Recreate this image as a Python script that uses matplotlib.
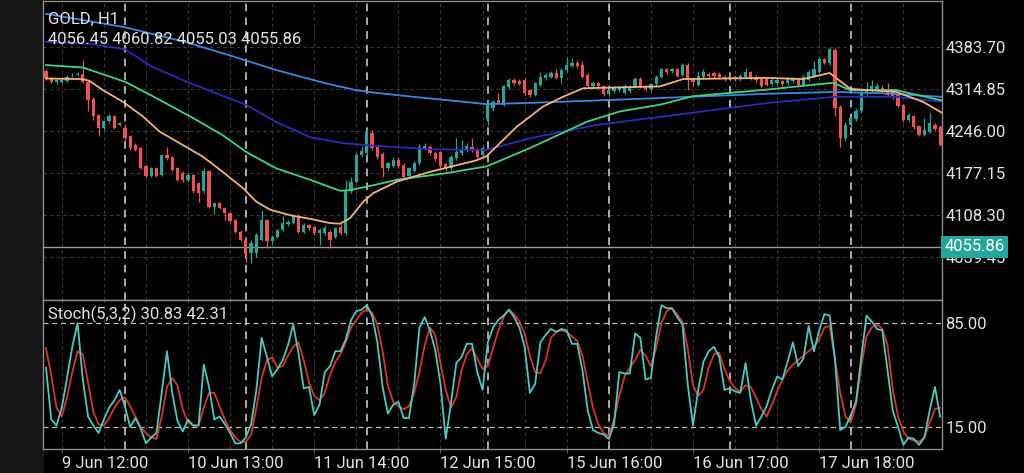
import matplotlib
matplotlib.use('Agg')
import matplotlib.pyplot as plt
import matplotlib.transforms as mtransforms
from matplotlib.patches import Rectangle
import numpy as np

plt.rcParams['font.family'] = ['Roboto', 'DejaVu Sans']

# H1 candles
opens = [4345, 4333, 4326, 4326, 4328, 4337, 4338, 4340, 4327, 4299,
         4272, 4251, 4262, 4270, 4256, 4251, 4237, 4223, 4218, 4188,
         4172, 4185, 4174, 4206, 4203, 4185, 4177, 4166, 4174, 4160,
         4147, 4180, 4122, 4128, 4119, 4111, 4100, 4081, 4068, 4046,
         4046, 4068, 4100, 4065, 4073, 4084, 4093, 4095, 4106, 4081,
         4092, 4089, 4079, 4079, 4081, 4073, 4089, 4079, 4148, 4162,
         4206, 4210, 4243, 4220, 4209, 4185, 4189, 4198, 4190, 4172,
         4181, 4193, 4218, 4220, 4210, 4212, 4192, 4185, 4201, 4210,
         4215, 4220, 4215, 4207, 4265, 4283, 4297, 4289, 4318, 4330,
         4328, 4330, 4313, 4305, 4322, 4332, 4335, 4341, 4333, 4346,
         4353, 4357, 4354, 4338, 4320, 4325, 4319, 4306, 4311, 4313,
         4309, 4311, 4318, 4331, 4320, 4314, 4323, 4334, 4347, 4344,
         4347, 4338, 4354, 4331, 4322, 4335, 4340, 4341, 4339, 4335,
         4331, 4335, 4331, 4335, 4342, 4335, 4331, 4331, 4323, 4325,
         4328, 4324, 4328, 4331, 4322, 4330, 4336, 4343, 4364, 4357,
         4379, 4286, 4234, 4255, 4265, 4278, 4308, 4313, 4314, 4317,
         4313, 4311, 4305, 4289, 4264, 4270, 4254, 4240, 4245, 4256,
         4252]
highs = [4348, 4334, 4331, 4333, 4337, 4341, 4342, 4362, 4328, 4301,
         4274, 4264, 4273, 4272, 4261, 4257, 4239, 4226, 4220, 4190,
         4187, 4187, 4209, 4220, 4205, 4187, 4180, 4177, 4176, 4162,
         4185, 4182, 4130, 4130, 4121, 4113, 4102, 4083, 4072, 4068,
         4078, 4117, 4102, 4076, 4086, 4106, 4100, 4109, 4110, 4095,
         4094, 4091, 4087, 4092, 4084, 4089, 4093, 4166, 4171, 4210,
         4222, 4250, 4247, 4222, 4211, 4195, 4203, 4203, 4193, 4187,
         4196, 4225, 4226, 4223, 4213, 4214, 4194, 4206, 4234, 4231,
         4226, 4234, 4218, 4222, 4296, 4296, 4308, 4322, 4333, 4332,
         4331, 4332, 4315, 4326, 4343, 4341, 4344, 4347, 4349, 4368,
         4365, 4362, 4360, 4341, 4328, 4327, 4321, 4316, 4319, 4320,
         4323, 4321, 4334, 4334, 4322, 4325, 4338, 4350, 4349, 4350,
         4349, 4357, 4357, 4333, 4345, 4347, 4343, 4345, 4342, 4337,
         4338, 4338, 4340, 4349, 4345, 4337, 4333, 4334, 4333, 4333,
         4330, 4335, 4334, 4333, 4337, 4346, 4361, 4367, 4366, 4384,
         4382, 4289, 4260, 4270, 4283, 4311, 4327, 4329, 4324, 4322,
         4324, 4313, 4308, 4291, 4275, 4272, 4256, 4267, 4275, 4259,
         4255]
lows = [4330, 4324, 4323, 4324, 4326, 4335, 4336, 4325, 4278, 4264,
        4237, 4248, 4259, 4249, 4254, 4232, 4215, 4213, 4183, 4170,
        4170, 4170, 4172, 4199, 4180, 4164, 4163, 4163, 4145, 4130,
        4145, 4120, 4110, 4118, 4100, 4095, 4079, 4065, 4031, 4030,
        4040, 4066, 4054, 4060, 4070, 4082, 4090, 4093, 4079, 4079,
        4084, 4076, 4059, 4075, 4054, 4070, 4076, 4076, 4145, 4160,
        4203, 4205, 4215, 4200, 4171, 4182, 4187, 4185, 4168, 4169,
        4178, 4190, 4215, 4207, 4196, 4185, 4181, 4182, 4198, 4207,
        4212, 4212, 4200, 4204, 4256, 4279, 4290, 4287, 4315, 4322,
        4321, 4305, 4302, 4303, 4320, 4330, 4333, 4331, 4324, 4343,
        4351, 4350, 4333, 4316, 4317, 4316, 4304, 4303, 4308, 4310,
        4306, 4308, 4316, 4316, 4311, 4311, 4320, 4332, 4340, 4341,
        4334, 4336, 4313, 4320, 4319, 4332, 4333, 4333, 4331, 4328,
        4328, 4328, 4328, 4332, 4330, 4327, 4317, 4319, 4320, 4322,
        4320, 4321, 4325, 4319, 4320, 4328, 4334, 4341, 4355, 4354,
        4270, 4219, 4230, 4252, 4262, 4275, 4305, 4310, 4311, 4308,
        4302, 4299, 4285, 4261, 4261, 4250, 4237, 4237, 4242, 4246,
        4221]
closes = [4332, 4326, 4329, 4330, 4335, 4338, 4339, 4327, 4297, 4270,
          4251, 4262, 4270, 4251, 4259, 4234, 4218, 4215, 4185, 4172,
          4185, 4172, 4207, 4201, 4182, 4166, 4166, 4174, 4147, 4144,
          4180, 4122, 4128, 4120, 4111, 4098, 4081, 4068, 4045, 4062,
          4076, 4100, 4065, 4073, 4084, 4095, 4097, 4106, 4081, 4092,
          4087, 4079, 4084, 4087, 4068, 4087, 4079, 4150, 4163, 4207,
          4214, 4245, 4218, 4204, 4185, 4193, 4199, 4188, 4171, 4185,
          4193, 4220, 4221, 4210, 4200, 4188, 4185, 4204, 4212, 4216,
          4221, 4215, 4204, 4218, 4291, 4293, 4292, 4319, 4330, 4324,
          4323, 4308, 4305, 4324, 4335, 4338, 4341, 4333, 4346, 4354,
          4357, 4353, 4335, 4319, 4325, 4319, 4307, 4313, 4316, 4317,
          4319, 4318, 4331, 4319, 4314, 4323, 4335, 4347, 4343, 4347,
          4336, 4354, 4331, 4327, 4336, 4343, 4336, 4336, 4334, 4331,
          4335, 4331, 4336, 4343, 4333, 4330, 4320, 4322, 4330, 4330,
          4323, 4332, 4331, 4322, 4334, 4343, 4347, 4364, 4357, 4380,
          4283, 4234, 4256, 4267, 4278, 4308, 4313, 4319, 4319, 4311,
          4305, 4302, 4287, 4264, 4272, 4253, 4240, 4248, 4259, 4249,
          4223]

# moving averages, sampled at bar positions
ma_orange_x = [0, 7, 8.3, 10.8, 14.6, 18.4, 21.6, 26, 29.8, 33.6, 37.5, 40, 42.6, 46.4, 50.2,
               54, 55.9, 57.8, 60.3, 62.2, 66.7, 73, 81.9, 83.8, 89.5, 94.5, 98.3, 102.1,
               116.7, 121.1, 137.3, 143.9, 149, 152.9, 161.6, 166.7, 170.3]
ma_orange = [4332, 4331, 4328, 4313, 4294, 4270, 4245, 4223, 4204, 4179, 4152, 4130, 4117, 4108,
             4102, 4095, 4094, 4103, 4130, 4144, 4163, 4179, 4198, 4205, 4253, 4286, 4302,
             4316, 4319, 4331, 4333, 4331, 4341, 4315, 4310, 4294, 4276]
ma_green_x = [0, 7, 10.8, 15.2, 21.6, 28, 33.6, 38, 43.7, 50.2, 55.9, 57.8, 62.2, 66.7, 76.2,
              83.8, 92, 102.8, 109.1, 116.7, 123, 137.3, 149.6, 152.9, 161.6, 170.3]
ma_green = [4354, 4350, 4339, 4326, 4297, 4267, 4239, 4212, 4185, 4166, 4148, 4149, 4157, 4166,
            4177, 4188, 4218, 4261, 4278, 4289, 4303, 4314, 4325, 4313, 4313, 4296]
ma_navy_x = [0, 8, 15, 20, 26.7, 32.3, 38, 43.7, 50.2, 56.5, 62.2, 73, 83.8, 92, 104.7, 116.7,
             137.3, 150, 161.6, 170.3]
ma_navy = [4392, 4389, 4380, 4352, 4327, 4308, 4289, 4261, 4236, 4226, 4222, 4216, 4215, 4234,
           4256, 4269, 4292, 4302, 4302, 4294]
ma_blue_x = [0, 15, 26.4, 34.9, 43.7, 53.2, 58.9, 62.2, 69.8, 83.8, 92, 104.7, 116.7, 137.3,
             150, 158.6, 170.3]
ma_blue = [4438, 4416, 4392, 4370, 4346, 4324, 4313, 4309, 4302, 4290, 4292, 4296, 4300, 4307,
           4310, 4308, 4302]

# Stoch(5,3,2)
stoch_k = [55, 20, 16, 28, 48, 69, 85, 47, 22, 16, 11, 20, 28, 33, 40, 29, 15, 21, 14, 4,
           8, 11, 38, 66, 38, 19, 12, 20, 16, 16, 57, 42, 20, 22, 17, 11, 4, 4, 8, 17,
           40, 75, 62, 49, 54, 60, 70, 84, 65, 41, 42, 23, 30, 52, 56, 66, 66, 74, 87, 93,
           94, 97, 90, 72, 42, 24, 30, 32, 21, 21, 44, 82, 89, 80, 67, 44, 7, 31, 58, 62,
           71, 71, 52, 40, 72, 82, 87, 90, 94, 89, 82, 69, 38, 44, 72, 77, 81, 79, 81, 80,
           71, 71, 53, 26, 13, 11, 10, 7, 17, 52, 51, 51, 78, 75, 47, 48, 76, 97, 95, 95,
           89, 84, 44, 16, 40, 59, 66, 69, 62, 40, 41, 39, 38, 58, 33, 16, 22, 29, 40, 49,
           47, 59, 72, 56, 61, 83, 66, 80, 91, 90, 61, 13, 15, 23, 32, 62, 90, 86, 81, 80,
           53, 26, 15, 3, 8, 7, 3, 8, 26, 42, 22]
stoch_d = [68, 50, 28, 22, 35, 52, 66, 64, 45, 25, 17, 16, 21, 28, 33, 35, 29, 22, 15, 11,
           8, 7, 22, 42, 48, 43, 27, 18, 16, 16, 28, 38, 38, 29, 20, 13, 8, 5, 5, 10,
           28, 48, 60, 62, 55, 56, 63, 69, 72, 60, 45, 36, 33, 38, 50, 59, 64, 72, 82, 87,
           92, 94, 92, 84, 66, 43, 32, 29, 27, 29, 38, 52, 70, 82, 77, 58, 40, 28, 35, 53,
           64, 68, 61, 54, 56, 68, 80, 89, 94, 91, 86, 78, 63, 52, 51, 60, 75, 79, 80, 79,
           76, 73, 63, 45, 28, 17, 11, 9, 20, 36, 49, 55, 60, 67, 63, 56, 68, 85, 93, 95,
           91, 86, 68, 43, 36, 40, 55, 64, 65, 54, 46, 41, 39, 43, 42, 35, 27, 22, 30, 39,
           47, 53, 57, 60, 63, 66, 69, 74, 82, 83, 60, 38, 22, 18, 30, 56, 76, 82, 84, 81,
           70, 40, 22, 12, 7, 6, 5, 8, 18, 27, 28]

price_ticks = [4383.70, 4314.85, 4246.00, 4177.15, 4108.30, 4039.45]
last_price = 4055.86
label_bars = [3, 27, 51, 75, 99, 123, 147]
time_labels = ['9 Jun 12:00', '10 Jun 13:00', '11 Jun 14:00', '12 Jun 15:00',
               '15 Jun 16:00', '16 Jun 17:00', '17 Jun 18:00']
day_start_bars = [15, 38, 61, 84, 107, 130, 153]

UP = '#26a69a'
DOWN = '#ef5350'
TXT = '#e2e2e2'
GRID = '#3a3a3a'
FRAME = '#8c8c8c'

o = np.array(opens, float)
h = np.array(highs, float)
l = np.array(lows, float)
c = np.array(closes, float)
x = np.arange(len(o))

fig = plt.figure(figsize=(10.24, 4.73), dpi=100, facecolor='black')
fig.patches.append(Rectangle((0, 0), 43 / 1024, 1, transform=fig.transFigure,
                             color='#151515', zorder=-5))

ax = fig.add_axes([43 / 1024, 173 / 473, 899 / 1024, 299 / 473])
ax2 = fig.add_axes([43 / 1024, 23.7 / 473, 899 / 1024, 149.3 / 473])

xlim = (-0.57, 170.35)
grid_bars = list(range(3, len(o), 8))

for a in (ax, ax2):
    a.set_facecolor('black')
    a.set_xlim(*xlim)
    for s in a.spines.values():
        s.set_color(FRAME)
        s.set_linewidth(1.0)
    for g in grid_bars:
        a.axvline(g, color=GRID, lw=0.8, ls=(0, (3, 3)), zorder=0)
    for d in day_start_bars:
        a.axvline(d, color='#d8d8d8', lw=1.1, ls=(0, (5, 4)), zorder=1)
    a.yaxis.tick_right()

# price panel
ax.set_ylim(3969, 4459)
for p in price_ticks:
    ax.axhline(p, color=GRID, lw=0.8, ls=(0, (3, 3)), zorder=0)
ax.axhline(last_price, color='#9a9a9a', lw=1.0, zorder=1)

up = c >= o
colors = np.where(up, UP, DOWN)
ax.vlines(x, l, h, colors=colors, lw=0.9, zorder=2)
ax.bar(x, np.maximum(np.abs(c - o), 1.2), bottom=np.minimum(o, c), width=0.62,
       color=colors, zorder=3)

ax.plot(ma_blue_x, ma_blue, color='#3f86df', lw=1.3, zorder=4)
ax.plot(ma_navy_x, ma_navy, color='#2b2bb8', lw=1.3, zorder=4)
ax.plot(ma_green_x, ma_green, color='#3fd383', lw=1.3, zorder=4)
ax.plot(ma_orange_x, ma_orange, color='#f2b27c', lw=1.3, zorder=5)

ax.set_yticks(price_ticks)
ax.set_yticklabels([f'{p:.2f}' for p in price_ticks])
ax.tick_params(axis='y', length=0, pad=2.5, labelsize=12, labelcolor=TXT)
ax.tick_params(axis='x', length=0, labelbottom=False)

trans = mtransforms.blended_transform_factory(ax.transAxes, ax.transData)
ax.text(1.003, last_price, f'{last_price:.2f}', transform=trans, ha='left', va='center',
        fontsize=12, color='white', clip_on=False, zorder=20,
        bbox=dict(boxstyle='square,pad=0.2', fc='#26a69a', ec='none'))

# stochastic panel
ax2.set_ylim(0, 100.5)
for lvl in (85, 15):
    ax2.axhline(lvl, color='#bdbdbd', lw=0.9, ls=(0, (4, 3)), zorder=1)
ax2.plot(x, stoch_d, color='#d8352f', lw=1.3, zorder=3)
ax2.plot(x, stoch_k, color='#4cc9c0', lw=1.3, zorder=4)
ax2.set_yticks([85, 15])
ax2.set_yticklabels(['85.00', '15.00'])
ax2.tick_params(axis='y', length=0, pad=2.5, labelsize=12, labelcolor=TXT)
ax2.set_xticks(label_bars)
ax2.set_xticklabels(time_labels, ha='left')
ax2.tick_params(axis='x', length=3, width=0.8, color='#555555', pad=1.5,
                labelsize=12, labelcolor=TXT)

fig.text(48 / 1024, 1 - 19 / 473, 'GOLD, H1', ha='left', va='center', fontsize=12, color=TXT)
fig.text(48 / 1024, 1 - 39 / 473, '4056.45 4060.82 4055.03 4055.86', ha='left', va='center',
         fontsize=12, color=TXT)
fig.text(48 / 1024, 1 - 314 / 473, 'Stoch(5,3,2) 30.83 42.31', ha='left', va='center',
         fontsize=12, color=TXT)

fig.savefig('out.png', dpi=100, facecolor=fig.get_facecolor())
